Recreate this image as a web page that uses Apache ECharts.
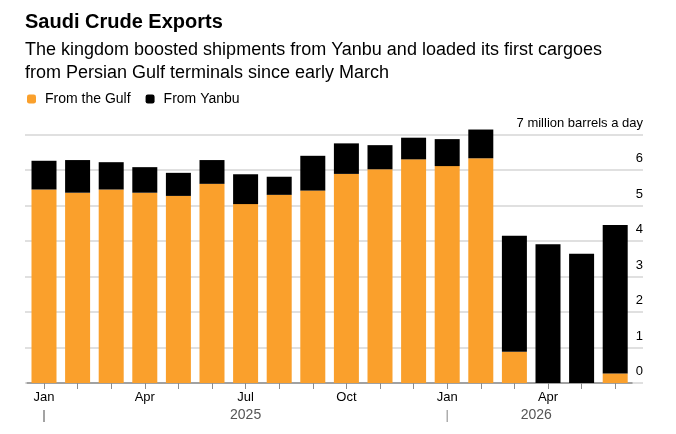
<!DOCTYPE html>
<html>
<head>
<meta charset="utf-8">
<script src="https://cdn.jsdelivr.net/npm/echarts@6/dist/echarts.min.js"></script>
<style>
html,body{margin:0;padding:0;background:#fff;}
#chart{width:676px;height:434px;}
</style>
</head>
<body>
<div id="chart"></div>
<script>
// Data (million barrels a day)
const months = ['Jan 2025','Feb 2025','Mar 2025','Apr 2025','May 2025','Jun 2025','Jul 2025','Aug 2025','Sep 2025','Oct 2025','Nov 2025','Dec 2025','Jan 2026','Feb 2026','Mar 2026','Apr 2026','May 2026','Jun 2026'];
const fromGulf  = [5.45,5.36,5.45,5.36,5.27,5.61,5.04,5.30,5.42,5.89,6.02,6.30,6.11,6.33,0.88,0,0,0.27];
const fromYanbu = [0.81,0.92,0.77,0.72,0.65,0.67,0.84,0.51,0.98,0.86,0.68,0.61,0.76,0.81,3.27,3.91,3.64,4.18];
const yTicks = [0,1,2,3,4,5,6,7];
const yearLabels = [{year:'2025', start:'Jan 2025'}, {year:'2026', start:'Jan 2026'}];

const FONT = '"Liberation Sans", Arial, sans-serif';
const chart = echarts.init(document.getElementById('chart'), null, {renderer:'canvas'});

// pixel scale: 0 at y=383, 7 at y=134.5
const PX_PER_UNIT = (383 - 134.5) / 7;

const option = {
  animation: false,
  textStyle: {fontFamily: FONT},
  title: {
    text: 'Saudi Crude Exports',
    subtext: 'The kingdom boosted shipments from Yanbu and loaded its first cargoes\nfrom Persian Gulf terminals since early March',
    left: 20, top: 7, itemGap: 7,
    textStyle: {fontFamily: FONT, fontSize: 20, fontWeight: 'bold', color: '#000'},
    subtextStyle: {fontFamily: FONT, fontSize: 18, color: '#000', lineHeight: 23}
  },
  legend: {
    left: 22, top: 87, itemWidth: 9, itemHeight: 9, itemGap: 15,
    icon: 'roundRect',
    textStyle: {fontFamily: FONT, fontSize: 14, color: '#000', padding: [0,0,0,4]},
    data: ['From the Gulf','From Yanbu']
  },
  grid: [
    {left: 25, right: 33, top: 134.5, bottom: 51},
    {left: 27.2, width: 604.8, top: 134.5 - PX_PER_UNIT, bottom: 51}
  ],
  xAxis: [
    {gridIndex: 0, type: 'value', show: false, min: 0, max: 1},
    {
      gridIndex: 1, type: 'category', data: months,
      axisLine: {show: true, lineStyle: {color: '#8c8c8c', width: 1.5}},
      axisTick: {show: true, alignWithLabel: true, interval: 0, length: 6, lineStyle: {color: '#8c8c8c'}},
      axisLabel: {
        interval: 2, margin: 8, fontSize: 13, color: '#000', fontFamily: FONT,
        formatter: v => v.split(' ')[0]
      }
    }
  ],
  yAxis: [
    {
      gridIndex: 0, type: 'value', min: 0, max: 7, interval: 1, position: 'right',
      axisLine: {show: false}, axisTick: {show: false},
      splitLine: {show: true, lineStyle: {color: '#d6d6d6', width: 1.5}},
      axisLabel: {
        inside: true, margin: 0, fontSize: 13, color: '#000', fontFamily: FONT,
        verticalAlign: 'bottom', padding: [0,0,5,0],
        formatter: v => (v === yTicks[yTicks.length - 1] ? v + ' million barrels a day' : String(v))
      }
    },
    {gridIndex: 1, type: 'value', min: 0, max: 8, interval: 1, show: false}
  ],
  series: [
    {
      name: 'From the Gulf', type: 'bar', stack: 'total', xAxisIndex: 1, yAxisIndex: 1,
      barWidth: 25, data: fromGulf,
      itemStyle: {color: '#FAA02C'}
    },
    {
      name: 'From Yanbu', type: 'bar', stack: 'total', xAxisIndex: 1, yAxisIndex: 1,
      barWidth: 25, data: fromYanbu,
      itemStyle: {color: '#000000'}
    }
  ]
};
chart.setOption(option);

// Year labels and year-start ticks, positioned from the category axis scale
const gfx = [];
const mid = {'2025': 'Jul 2025', '2026': 'Mar 2026'};
yearLabels.forEach(function (y) {
  const xs = chart.convertToPixel({xAxisIndex: 1}, y.start);
  gfx.push({type: 'line', shape: {x1: xs, y1: 410, x2: xs, y2: 422}, style: {stroke: y.year === '2025' ? '#666' : '#999', lineWidth: 1.2}});
  const a = chart.convertToPixel({xAxisIndex: 1}, mid[y.year]);
  const b = chart.convertToPixel({xAxisIndex: 1}, months[months.indexOf(mid[y.year]) + 1]);
  const cx = y.year === '2025' ? a : (a + b) / 2 + 5;
  gfx.push({type: 'text', x: cx, y: 415, style: {text: y.year, fill: '#555', font: '14px ' + FONT, textAlign: 'center', textVerticalAlign: 'middle', letterSpacing: 1}});
});
chart.setOption({graphic: gfx});
</script>
</body>
</html>
